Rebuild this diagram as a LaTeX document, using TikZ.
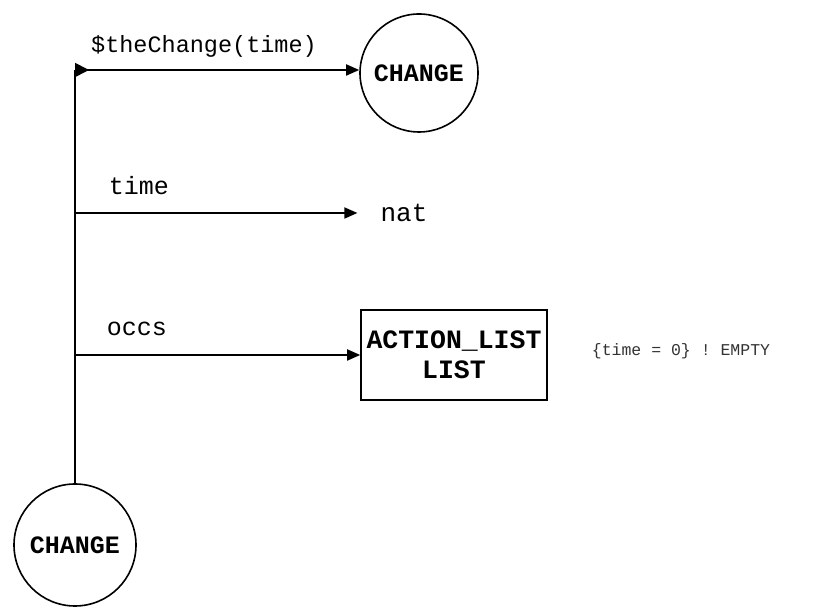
\documentclass[tikz,border=0pt]{standalone}
\usepackage{fontspec}
\setmonofont{Liberation Mono}
\usetikzlibrary{arrows.meta}
\begin{document}
\begin{tikzpicture}[x=1pt,y=1pt,
  tip/.tip={Triangle[length=13pt,width=11pt]},
  link/.style={line width=1.8pt,-tip},
  state/.style={circle,draw,line width=1.6pt,font=\ttfamily\bfseries\fontsize{25}{27}\selectfont,inner sep=0pt},
  typebox/.style={draw,line width=1.6pt,align=center,font=\ttfamily\bfseries\fontsize{26.5}{30}\selectfont,inner sep=2pt,minimum width=186pt,minimum height=90pt},
  lbl/.style={font=\ttfamily\fontsize{25}{28}\selectfont,inner sep=0pt},
  note/.style={font=\ttfamily\fontsize{16.5}{19}\selectfont,text=black!80,inner sep=0pt}]
\useasboundingbox (0,0) rectangle (827,612);

% the two CHANGE states
\node[state,minimum size=118pt] (top) at (419,539) {CHANGE};
\node[state,minimum size=122pt] (bot) at (75,67) {CHANGE};

% targets of the attributes
\node[lbl,font=\ttfamily\fontsize{26}{28}\selectfont] (nat) at (404,399) {nat};
\node[typebox] (alist) at (454,257) {ACTION\_LIST\\LIST};

% trunk and branch points
\coordinate (corner) at (75,542);
\coordinate (jtime) at (75,399);
\coordinate (jocc) at (75,257);

\draw[line width=1.8pt] (bot.north) -- (corner);
\draw[link,{Triangle[reversed,length=14pt,width=14pt]}-tip] (corner) -- (corner -| top.west);
\draw[link,shorten >=23pt] (jtime) -- (jtime -| nat.west);
\draw[link] (jocc) -- (alist.west);

% labels
\node[lbl,font=\ttfamily\fontsize{23.5}{26}\selectfont] (lchange) at (204,566) {\$theChange(time)};
\node[lbl] (ltime) at (139,426) {time};
\node[lbl] (locc) at (137,283) {occs};
\node[note] (cond) at (681,261) {\{time = 0\} ! EMPTY};
\end{tikzpicture}
\end{document}
